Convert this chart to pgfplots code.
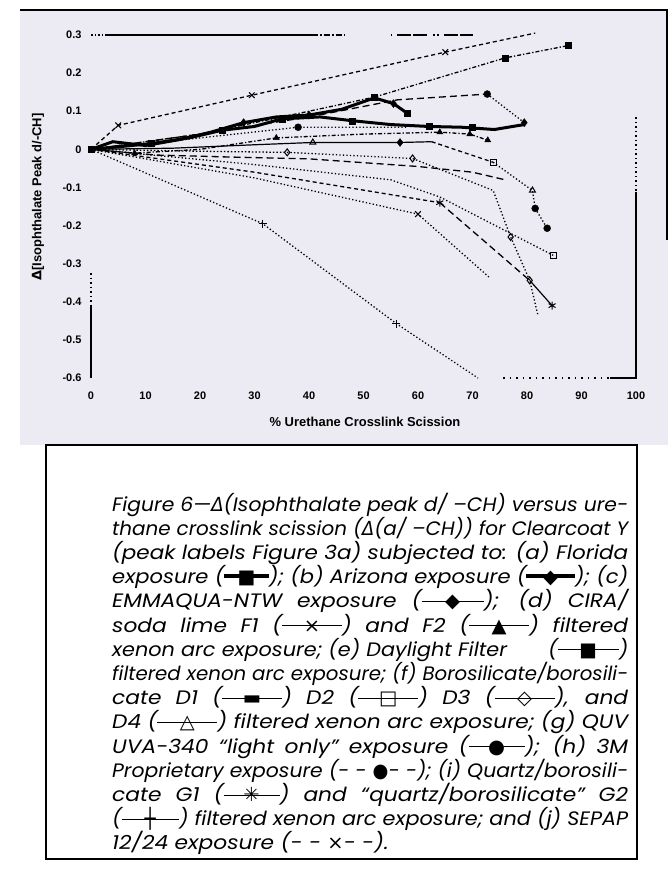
\documentclass[border=0pt]{standalone}
\usepackage{fontspec}
\usepackage{graphicx}
\usepackage{pgfplots}
\pgfplotsset{compat=1.18}
\setmainfont{Liberation Sans}
\newfontfamily\capfont{Poppins}[FakeStretch=1.12]
\newfontfamily\symfont{DejaVu Sans}
\definecolor{bg}{RGB}{236,235,243}
\newcommand\sym[3]{\mbox{\rlap{\rule[0.30em]{#1}{#2}}\makebox[#1][c]{\symfont #3}}}
\newcommand\jl[1]{\sbox0{#1}\ifdim\wd0>516bp \resizebox{516bp}{\height}{\usebox0}\else\makebox[516bp][s]{#1}\fi\\}
\begin{document}
\begin{tikzpicture}[
  dotline/.style={line width=1.3bp, dash pattern=on 1.3bp off 2.2bp},
  dashline/.style={line width=1.3bp, dash pattern=on 4bp off 3bp},
  longdash/.style={line width=1.3bp, dash pattern=on 7bp off 4bp},
  dashdot/.style={line width=1.3bp, dash pattern=on 4bp off 2bp on 1.3bp off 2bp},
  thin/.style={line width=1.2bp},
  heavy/.style={line width=3bp}]
\fill[white] (0bp,0bp) rectangle (670bp,-869bp);
\fill[bg] (20bp,-10bp) rectangle (668bp,-445bp);
\draw[line width=2bp] (20bp,-10bp) -- (668bp,-10bp);
\draw[line width=1.5bp] (667bp,-10bp) -- (667bp,-240bp);
\begin{axis}[at={(91bp,-378bp)}, anchor=south west, scale only axis,
  width=545bp, height=343bp, xmin=0, xmax=100, ymin=-0.6, ymax=0.3,
  axis line style={draw=none}, clip=false, major tick length=0pt,
  xtick={0,10,...,100}, xticklabels={0,10,20,30,40,50,60,70,80,90,100},
  ytick={-0.6,-0.5,-0.4,-0.3,-0.2,-0.1,0,0.1,0.2,0.3},
  yticklabels={-0.6,-0.5,-0.4,-0.3,-0.2,-0.1,0,0.1,0.2,0.3},
  ticklabel style={font=\fontsize{11}{12}\selectfont\bfseries},
  /pgf/number format/assume math mode=true,
  xticklabel style={yshift=-10bp},
  yticklabel style={xshift=-6bp},
  every axis plot/.append style={black}]
% frame remnants
\draw[line width=1.5bp, dash pattern=on 1.5bp off 2bp] (axis cs:0,0.3) -- (axis cs:3,0.3);
\draw[line width=1.5bp] (axis cs:3,0.3) -- (axis cs:40.5,0.3);
\draw[line width=1.5bp, dash pattern=on 6bp off 2bp on 2bp off 2bp] (axis cs:40.5,0.3) -- (axis cs:46.5,0.3);
\draw[line width=1.5bp, dash pattern=on 1.5bp off 5bp on 14bp off 2bp on 14bp off 6bp on 2bp off 2bp] (axis cs:55,0.3) -- (axis cs:70,0.3);
\draw[line width=1.5bp, dash pattern=on 1.5bp off 3bp] (axis cs:100,0.084) -- (axis cs:100,-0.113);
\draw[line width=1.5bp] (axis cs:100,-0.113) -- (axis cs:100,-0.6) -- (axis cs:95.2,-0.6);
\draw[line width=1.5bp, dash pattern=on 1.5bp off 5bp] (axis cs:75.6,-0.6) -- (axis cs:95.2,-0.6);
\draw[line width=1.5bp, dash pattern=on 1.5bp off 3bp] (axis cs:0,-0.325) -- (axis cs:0,-0.41);
\draw[line width=1.5bp] (axis cs:0,-0.41) -- (axis cs:0,-0.6);
% lines
\addplot[dashline] coordinates {(0,0) (5,0.063) (29.5,0.142) (65,0.255) (81.5,0.305)};
\addplot[dashdot] coordinates {(0,0) (20,0.04) (40,0.1) (52,0.137) (76,0.24) (87.5,0.272)};
\addplot[longdash] coordinates {(0,0) (20,0.04) (40,0.085) (56.3,0.13) (72.7,0.145)};
\addplot[dotline] coordinates {(72.7,0.145) (79.5,0.07)};
\addplot[dotline] coordinates {(0,0) (20,0.03) (38,0.058) (58,0.058)};
\addplot[heavy] coordinates {(0,0) (6,0.008) (11,0.015) (18,0.03) (24,0.05) (30,0.06) (35,0.08) (42,0.085) (48,0.075) (55,0.065) (62,0.06) (68,0.058) (74,0.052) (79.5,0.065)};
\addplot[heavy] coordinates {(0,0) (4,0.02) (10,0.01) (16,0.025) (22,0.045) (28,0.07) (34,0.085) (40,0.09) (46,0.105) (52,0.135) (55.5,0.12) (58,0.095)};
\addplot[dashdot] coordinates {(0,0) (8,-0.01) (20,0) (34,0.03) (50,0.04) (64,0.045) (69.5,0.04) (72.8,0.024)};
\addplot[thin] coordinates {(0,0) (15,0.003) (30,0.012) (40.7,0.018) (56.7,0.018) (62.5,0.02)};
\addplot[dashline] coordinates {(62.5,0.02) (73.8,-0.034)};
\addplot[dotline] coordinates {(73.8,-0.034) (81,-0.108) (81.5,-0.155) (83.7,-0.207)};
\addplot[longdash] coordinates {(0,0) (12,-0.015) (25,-0.02) (40,-0.025) (50,-0.035) (60,-0.045) (70,-0.06) (76,-0.08)};
\addplot[dashline] coordinates {(0,0) (30,-0.06) (64,-0.14)};
\addplot[longdash] coordinates {(64,-0.14) (80.5,-0.344)};
\addplot[thin] coordinates {(80.5,-0.344) (84.6,-0.41)};
\addplot[dotline] coordinates {(0,0) (30,-0.075) (60,-0.17) (73,-0.335)};
\addplot[dotline] coordinates {(0,0) (31.5,-0.195) (56,-0.457) (71,-0.6)};
\addplot[dotline] coordinates {(0,0) (20,-0.005) (36,-0.008) (59,-0.024) (73.8,-0.108) (77,-0.23) (80.5,-0.344) (82,-0.435)};
\addplot[dotline] coordinates {(0,0) (30,-0.04) (55,-0.08) (64,-0.125) (84.8,-0.278)};
% marks
\addplot[only marks, mark=square*, mark size=3bp] coordinates {(0,0) (11,0.015) (24,0.05) (35,0.08) (48,0.075) (62,0.06) (70,0.058) (52,0.137) (58,0.095) (76,0.24) (87.5,0.272)};
\addplot[only marks, mark=diamond*, mark size=4bp] coordinates {(28,0.07) (40,0.09) (55.5,0.12) (56.7,0.018) (79.5,0.07)};
\addplot[only marks, mark=x, mark size=4bp, mark options={line width=1bp}] coordinates {(5,0.063) (29.5,0.142) (65,0.255) (60,-0.17)};
\addplot[only marks, mark=triangle*, mark size=3.5bp] coordinates {(8,-0.01) (34,0.03) (64,0.045) (69.5,0.04) (72.8,0.024)};
\addplot[only marks, mark=triangle, mark size=3.5bp, mark options={line width=1bp}] coordinates {(40.7,0.018) (81,-0.108)};
\addplot[only marks, mark=square, mark size=3bp, mark options={line width=1.2bp}] coordinates {(73.8,-0.034) (84.8,-0.278)};
\addplot[only marks, mark=diamond, mark size=3.5bp, mark options={line width=1bp}] coordinates {(36,-0.008) (59,-0.024) (77,-0.23) (80.5,-0.344)};
\addplot[only marks, mark=*, mark size=3.5bp] coordinates {(38,0.058) (72.7,0.145) (81.5,-0.155) (83.7,-0.207)};
\addplot[only marks, mark=asterisk, mark size=4bp, mark options={line width=1bp}] coordinates {(64,-0.14) (84.6,-0.41)};
\addplot[only marks, mark=+, mark size=4bp, mark options={line width=1.2bp}] coordinates {(31.5,-0.195) (56,-0.457)};
\end{axis}
\node[font=\fontsize{13}{15}\selectfont\bfseries] at (365bp,-422bp) {\% Urethane Crosslink Scission};
\node[font=\fontsize{13}{15}\selectfont\bfseries, rotate=90] at (38bp,-197bp) {{\symfont Δ}[Isophthalate Peak d/-CH]};
% caption
\draw[line width=2bp, fill=white] (46bp,-445bp) rectangle (637bp,-859bp);
\node[anchor=base west, inner sep=0pt] at (112bp,-511bp) {\parbox[t]{516bp}{\capfont\itshape\fontsize{19.5}{24.3}\selectfont
\jl{Figure 6—{\symfont\itshape Δ}(Isophthalate peak d/ –CH) versus ure-}
\jl{thane crosslink scission ({\symfont\itshape Δ}(a/ –CH)) for Clearcoat Y}
\jl{(peak labels Figure 3a) subjected to: (a) Florida}
\jl{exposure (\sym{46bp}{4bp}{■}); (b) Arizona exposure (\sym{50bp}{4bp}{◆}); (c)}
\jl{EMMAQUA-NTW exposure (\sym{62bp}{1bp}{◆}); (d) CIRA/}
\jl{soda lime F1 (\sym{60bp}{1bp}{×}) and F2 (\sym{60bp}{1bp}{▲}) filtered}
\jl{xenon arc exposure; (e) Daylight Filter \hspace{30bp} (\sym{64bp}{1bp}{■})}
\jl{filtered xenon arc exposure; (f) Borosilicate/borosili-}
\jl{cate D1 (\sym{60bp}{1bp}{▬}) D2 (\sym{60bp}{1bp}{□}) D3 (\sym{60bp}{1bp}{◇}), and}
\jl{D4 (\sym{60bp}{1bp}{△}) filtered xenon arc exposure; (g) QUV}
\jl{UVA-340 “light only” exposure (\sym{56bp}{1bp}{●}); (h) 3M}
\jl{Proprietary exposure (- - {\symfont ●}- -); (i) Quartz/borosili-}
\jl{cate G1 (\sym{56bp}{1bp}{✳}) and “quartz/borosilicate” G2}
\jl{(\sym{60bp}{1bp}{┼}) filtered xenon arc exposure; and (j) SEPAP}
12/24 exposure (- - {\symfont ×}- -).}};
\end{tikzpicture}
\end{document}
